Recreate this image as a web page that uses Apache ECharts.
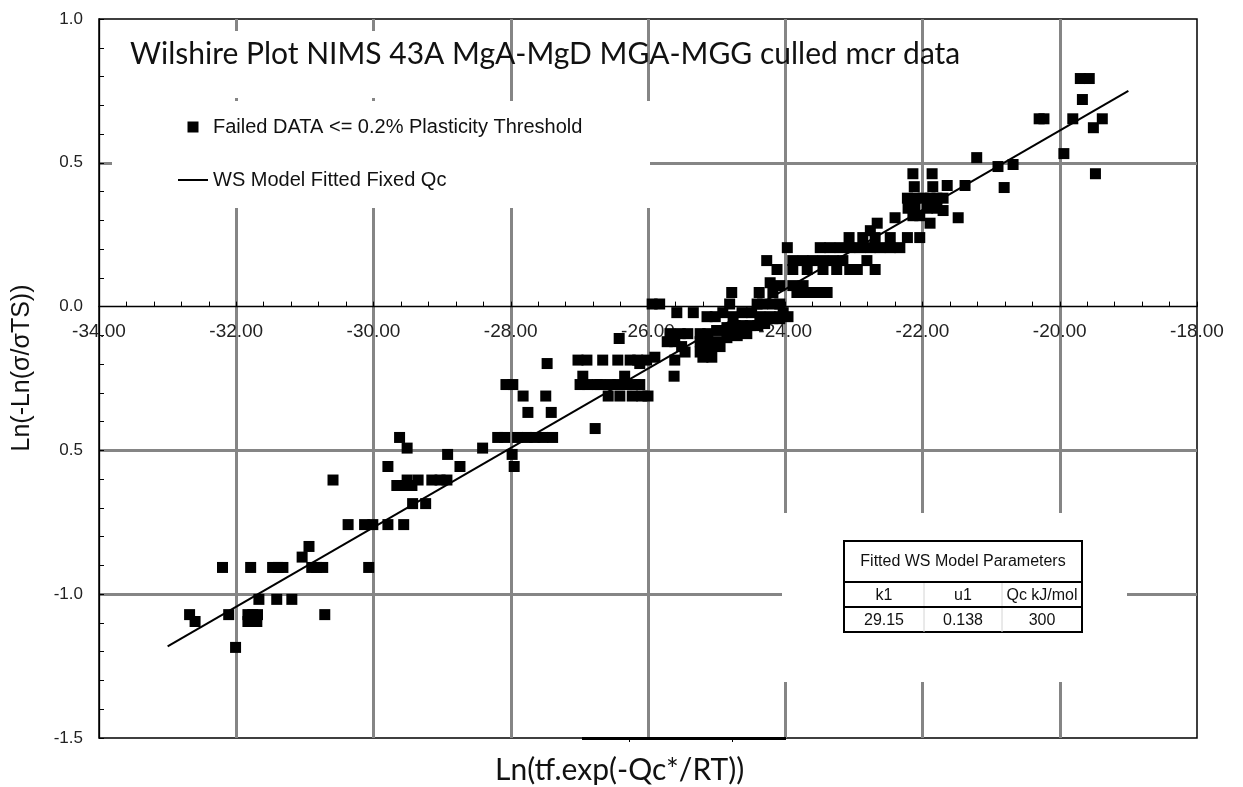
<!DOCTYPE html>
<html>
<head>
<meta charset="utf-8">
<title>Wilshire Plot NIMS 43A</title>
<script src="https://cdn.jsdelivr.net/npm/echarts@6/dist/echarts.min.js"></script>
<style>
  html, body { margin: 0; padding: 0; background: #fff; }
  #chart { width: 1243px; height: 787px; }
</style>
</head>
<body>
<div id="chart"></div>
<script>
// Failed creep data (<= 0.2% plasticity threshold): Ln(tf.exp(-Qc*/RT)) vs Ln(-Ln(σ/σTS))
const failedX = [
  -32.68, -32.60, -32.20, -32.11, -32.01, -31.79, -31.83, -31.76, -31.69, -31.83,
  -31.70, -31.67, -31.47, -31.39, -31.32, -31.41, -31.19, -31.04, -30.94, -30.90,
  -30.83, -30.74, -30.71, -30.07,
  -30.59, -30.37, -30.13, -30.01, -29.79, -29.56, -29.79, -29.62, -29.51, -29.66,
  -29.54, -29.51, -29.44, -29.35, -29.43, -29.24, -29.15, -29.03, -28.93, -28.92,
  -28.74, -28.41, -28.19, -28.09, -27.90, -27.76, -27.65, -27.53, -27.39, -27.98,
  -27.95, -28.07, -27.97, -27.82, -27.75, -27.49, -27.41, -27.47, -26.77,
  -27.02, -26.89, -26.66, -26.44, -26.26, -26.15, -26.02, -25.90, -26.95, -26.34,
  -26.99, -26.88, -26.74, -26.55, -26.44, -26.31, -26.19, -26.70, -26.12,
  -26.58, -26.41, -26.23, -26.09, -26.00, -26.42, -26.12, -25.94, -25.83,
  -25.68, -25.53, -25.42, -25.72, -25.61, -25.51, -25.46, -25.61, -25.62, -25.58,
  -25.34, -25.14, -25.02, -24.91, -24.81, -24.76, -24.78, -24.38, -24.22,
  -24.41, -24.33, -24.18, -24.08, -24.63, -24.49, -24.37, -24.22, -24.08, -23.96,
  -25.24, -25.13, -24.56, -25.00, -24.85, -24.73, -24.62, -24.51, -24.40, -24.30,
  -24.18, -24.08, -25.24, -25.13, -25.00, -24.85, -24.70, -25.24, -25.10, -24.95,
  -25.20, -25.07,
  -23.97, -24.27, -24.12, -24.18, -23.89, -23.74, -23.60, -23.45, -23.30, -23.16,
  -23.89, -23.68, -23.45, -23.25, -23.06, -22.95, -22.81, -22.69, -24.08, -23.89,
  -23.74, -23.83, -23.68, -23.54, -23.39, -24.03,
  -23.49, -23.35, -23.20, -23.06, -22.91, -22.76, -22.62, -22.47, -22.33,
  -23.07, -22.87, -22.69, -22.47, -22.22, -22.04, -22.76, -22.66, -22.40,
  -22.14, -21.86, -22.12, -21.85, -21.64, -21.38, -22.22, -22.11, -21.99, -21.89,
  -21.79, -21.70, -22.21, -22.11, -21.93, -21.79, -21.70, -22.14, -22.04, -21.89,
  -21.48, -21.21, -20.90, -20.68, -20.81, -20.30, -20.23, -19.81, -19.38, -19.51,
  -19.94, -19.48, -19.70, -19.57, -19.67
];
const failedY = [
  -1.071, -1.095, -0.907, -1.071, -1.185, -0.907, -1.071, -1.071, -1.071, -1.095,
  -1.095, -1.018, -0.907, -0.907, -0.907, -1.018, -1.018, -0.871, -0.834, -0.907,
  -0.907, -0.907, -1.071, -0.907,
  -0.603, -0.758, -0.758, -0.758, -0.758, -0.758, -0.556, -0.455, -0.492, -0.622,
  -0.622, -0.603, -0.622, -0.603, -0.685, -0.685, -0.603, -0.603, -0.603, -0.514,
  -0.556, -0.492, -0.455, -0.455, -0.455, -0.455, -0.455, -0.455, -0.455, -0.514,
  -0.556, -0.271, -0.271, -0.311, -0.368, -0.311, -0.368, -0.198, -0.424,
  -0.186, -0.186, -0.186, -0.186, -0.186, -0.186, -0.186, -0.176, -0.242, -0.242,
  -0.271, -0.271, -0.271, -0.271, -0.271, -0.271, -0.271, -0.271, -0.271,
  -0.311, -0.311, -0.311, -0.311, -0.311, -0.111, -0.198, 0.009, 0.009,
  -0.094, -0.094, -0.094, -0.122, -0.122, -0.139, -0.158, -0.186, -0.242, -0.021,
  -0.021, -0.035, -0.035, -0.021, 0.009, -0.035, 0.049, 0.049, 0.083,
  0.009, 0.009, 0.009, 0.009, -0.021, -0.021, -0.035, -0.035, -0.035, -0.035,
  -0.094, -0.094, -0.094, -0.083, -0.073, -0.066, -0.066, -0.066, -0.066, -0.059,
  -0.042, -0.042, -0.122, -0.122, -0.122, -0.108, -0.101, -0.158, -0.158, -0.139,
  -0.176, -0.176,
  0.205, 0.160, 0.129, 0.049, 0.160, 0.160, 0.160, 0.160, 0.160, 0.160,
  0.129, 0.129, 0.129, 0.129, 0.129, 0.129, 0.160, 0.129, 0.073, 0.073,
  0.073, 0.049, 0.049, 0.049, 0.049, -0.021,
  0.205, 0.205, 0.205, 0.205, 0.205, 0.205, 0.205, 0.205, 0.205,
  0.240, 0.240, 0.240, 0.240, 0.240, 0.240, 0.264, 0.290, 0.309,
  0.462, 0.462, 0.417, 0.417, 0.421, 0.421, 0.377, 0.377, 0.377, 0.377,
  0.377, 0.377, 0.342, 0.342, 0.342, 0.342, 0.334, 0.316, 0.316, 0.290,
  0.309, 0.518, 0.487, 0.494, 0.414, 0.653, 0.653, 0.653, 0.653, 0.622,
  0.532, 0.462, 0.793, 0.793, 0.720
];

// Fitted Wilshire model parameters (shown in the table)
const paramNames = ['k1', 'u1', 'Qc kJ/mol'];
const paramValues = ['29.15', '0.138', '300'];
// x-extent of the fitted model line
const fitXRange = [-33.0, -19.0];

// Axis tick labels
const xTickLabels = ['-34.00', '-32.00', '-30.00', '-28.00', '-26.00', '-24.00', '-22.00', '-20.00', '-18.00'];
const yTickLabels = ['-1.5', '-1.0', '0.5', '0.0', '0.5', '1.0'];

const X_MIN = -34, X_MAX = -18, X_STEP = 2;
const Y_MIN = -1.5, Y_MAX = 1.0, Y_STEP = 0.5;

const k1 = parseFloat(paramValues[0]);
const u1 = parseFloat(paramValues[1]);
// Wilshire: Ln(-Ln(σ/σTS)) = u1 * Ln(tf.exp(-Qc*/RT)) + Ln(k1)
const fitData = fitXRange.map(x => [x, u1 * x + Math.log(k1)]);
const failedData = failedX.map((x, i) => [x, failedY[i]]);

const CLEAR = 'rgba(0,0,0,0)';
const GRAY = '#858585';

// plot frame
const GRID_BOX = { left: 99, right: 46, top: 19, bottom: 49 };
const PLOT_H = 787 - GRID_BOX.top - GRID_BOX.bottom;
// distance from the lower frame up to y = 0, where the x-axis is drawn
const ZERO_OFFSET = PLOT_H * (0 - Y_MIN) / (Y_MAX - Y_MIN);

const chart = echarts.init(document.getElementById('chart'), null, { renderer: 'canvas' });

const TFONT = '16px "Liberation Sans", Arial, sans-serif';
const TBL = { x: 844, y: 541, w: 238, h1: 41, h2: 25, h3: 25, cols: [844, 924, 1002, 1082] };
const tableEls = [];
tableEls.push({ type: 'rect', z: 10, shape: { x: TBL.x, y: TBL.y, width: TBL.w, height: TBL.h1 + TBL.h2 + TBL.h3 },
  style: { fill: '#fff', stroke: '#000', lineWidth: 2 } });
[1, 2].forEach(c => tableEls.push({ type: 'line', z: 11,
  shape: { x1: TBL.cols[c], y1: TBL.y + TBL.h1, x2: TBL.cols[c], y2: TBL.y + TBL.h1 + TBL.h2 + TBL.h3 },
  style: { stroke: '#d4d4d4', lineWidth: 1 } }));
tableEls.push({ type: 'line', z: 12, shape: { x1: TBL.x, y1: TBL.y + TBL.h1, x2: TBL.x + TBL.w, y2: TBL.y + TBL.h1 },
  style: { stroke: '#000', lineWidth: 2 } });
tableEls.push({ type: 'line', z: 12, shape: { x1: TBL.x, y1: TBL.y + TBL.h1 + TBL.h2, x2: TBL.x + TBL.w, y2: TBL.y + TBL.h1 + TBL.h2 },
  style: { stroke: '#000', lineWidth: 2 } });
tableEls.push({ type: 'text', z: 12, x: TBL.x + TBL.w / 2, y: TBL.y + TBL.h1 / 2,
  style: { text: 'Fitted WS Model Parameters', font: TFONT, fill: '#111', align: 'center', verticalAlign: 'middle' } });
paramNames.forEach((n, c) => {
  const cx = (TBL.cols[c] + TBL.cols[c + 1]) / 2;
  tableEls.push({ type: 'text', z: 12, x: cx, y: TBL.y + TBL.h1 + TBL.h2 / 2 + 1,
    style: { text: n, font: TFONT, fill: '#111', align: 'center', verticalAlign: 'middle' } });
  tableEls.push({ type: 'text', z: 12, x: cx, y: TBL.y + TBL.h1 + TBL.h2 + TBL.h3 / 2 + 1,
    style: { text: paramValues[c], font: TFONT, fill: '#111', align: 'center', verticalAlign: 'middle' } });
});

const option = {
  backgroundColor: '#fff',
  animation: false,
  title: [
    { text: 'Wilshire Plot NIMS 43A MgA-MgD MGA-MGG culled mcr data', left: 130, top: 39, padding: 0,
      textStyle: { fontFamily: 'Lato', fontSize: 30, fontWeight: 'normal', color: '#111' } },
    { text: 'Ln(tf.exp(-Qc*/RT))', left: 495, top: 755, padding: 0,
      textStyle: { fontFamily: 'Lato', fontSize: 30, fontWeight: 'normal', color: '#111' } }
  ],
  legend: {
    orient: 'vertical', left: 178, top: 117, padding: 0, itemGap: 33,
    itemWidth: 30, itemHeight: 11, selectedMode: false,
    textStyle: { fontFamily: '"Liberation Sans", Arial, sans-serif', fontSize: 20, color: '#111', lineHeight: 20 },
    data: [
      { name: 'Failed DATA <= 0.2% Plasticity Threshold', icon: 'path://M0,0L10,0L10,10L0,10Z' },
      { name: 'WS Model Fitted Fixed Qc', icon: 'path://M0,0L30,0L30,2L0,2Z' }
    ]
  },
  grid: { left: GRID_BOX.left, right: GRID_BOX.right, top: GRID_BOX.top, bottom: GRID_BOX.bottom,
    show: true, borderColor: '#000', borderWidth: 1.5, backgroundColor: '#fff' },
  xAxis: {
    type: 'value', min: X_MIN, max: X_MAX, interval: X_STEP,
    position: 'bottom', offset: -ZERO_OFFSET,
    axisLine: { onZero: false, lineStyle: { color: '#000', width: 1.3 } },
    axisTick: { show: true, inside: true, length: 5, lineStyle: { color: '#000' } },
    minorTick: { show: true, splitNumber: 5, length: 5, lineStyle: { color: '#000', width: 1 } },
    axisLabel: { fontSize: 19, margin: 16, color: '#222', fontFamily: '"Liberation Sans", Arial, sans-serif',
      showMinLabel: true, showMaxLabel: true,
      formatter: v => xTickLabels[Math.round((v - X_MIN) / X_STEP)] },
    splitLine: { show: true, lineStyle: { width: 3, color: [CLEAR, GRAY, GRAY, GRAY, GRAY, GRAY, GRAY, GRAY, CLEAR] } }
  },
  yAxis: {
    type: 'value', min: Y_MIN, max: Y_MAX, interval: Y_STEP,
    axisLine: { show: true, lineStyle: { color: '#000', width: 1.3 } },
    axisTick: { show: true, inside: true, length: 5, lineStyle: { color: '#000' } },
    minorTick: { show: true, splitNumber: 5, length: 5, lineStyle: { color: '#000', width: 1 } },
    axisLabel: { fontSize: 17, margin: 16, color: '#222', fontFamily: '"Liberation Sans", Arial, sans-serif',
      formatter: v => yTickLabels[Math.round((v - Y_MIN) / Y_STEP)] },
    splitLine: { show: true, lineStyle: { width: 3, color: [CLEAR, GRAY, GRAY, CLEAR, GRAY, CLEAR] } }
  },
  graphic: [
    // white panels behind the legend and title
    { type: 'rect', z: 1, shape: { x: 112, y: 31, width: 390, height: 67 }, style: { fill: '#fff' } },
    { type: 'rect', z: 1, shape: { x: 112, y: 101, width: 538, height: 107 }, style: { fill: '#fff' } },
    // white panel behind the parameter table
    { type: 'rect', z: 1, shape: { x: 782, y: 513, width: 345, height: 169 }, style: { fill: '#fff' } },
    ...tableEls,
    // heavier segment on the lower frame
    { type: 'line', z: 5, shape: { x1: 582, y1: 738.5, x2: 786, y2: 738.5 }, style: { stroke: '#000', lineWidth: 3 } },
    { type: 'line', z: 5, shape: { x1: 629.5, y1: 738, x2: 629.5, y2: 742 }, style: { stroke: '#000', lineWidth: 1 } },
    { type: 'line', z: 5, shape: { x1: 732.5, y1: 738, x2: 732.5, y2: 742 }, style: { stroke: '#000', lineWidth: 1 } },
    // y-axis title
    { type: 'text', z: 5, x: 22, y: 368, rotation: Math.PI / 2,
      style: { text: 'Ln(-Ln(σ/σTS))', font: '25px "Liberation Sans", Arial, sans-serif', fill: '#111', align: 'center', verticalAlign: 'middle' } }
  ],
  series: [
    {
      name: 'Failed DATA <= 0.2% Plasticity Threshold', type: 'scatter', z: 3,
      symbol: 'rect', symbolSize: 11, itemStyle: { color: '#000', opacity: 1 },
      data: failedData
    },
    {
      name: 'WS Model Fitted Fixed Qc', type: 'line', z: 4,
      symbol: 'none', showSymbol: false,
      lineStyle: { color: '#000', width: 2 }, itemStyle: { color: '#000' },
      data: fitData
    }
  ]
};

chart.setOption(option);
</script>
</body>
</html>
